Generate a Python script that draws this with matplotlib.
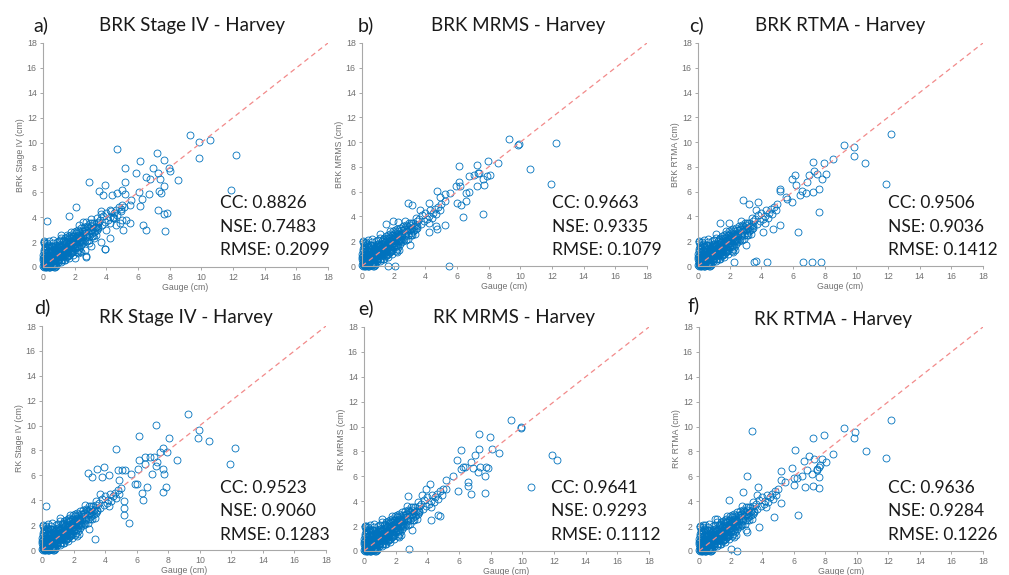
import matplotlib.pyplot as plt
import numpy as np

# ---- data ----
# dense low-value cluster (same gauges in every panel)
cluster_gauge = [0.02, 0.05, 0.08, 0.1, 0.12, 0.15, 0.18, 0.2, 0.22, 0.25, 0.28, 0.3, 0.33, 0.35, 0.38, 0.4, 0.43, 0.45, 0.48, 0.5,
                 0.03, 0.06, 0.09, 0.13, 0.16, 0.19, 0.23, 0.26, 0.29, 0.32, 0.36, 0.39, 0.42, 0.46, 0.49, 0.04, 0.11, 0.21, 0.31, 0.41,
                 0.52, 0.55, 0.58, 0.6, 0.62, 0.65, 0.68, 0.7, 0.72, 0.75, 0.78, 0.8, 0.82, 0.85, 0.88, 0.9, 0.92, 0.95, 0.98, 1.0,
                 0.54, 0.59, 0.64, 0.69, 0.74, 0.79, 0.84, 0.89, 0.94, 0.99, 0.57, 0.67, 0.77, 0.87, 0.97,
                 1.02, 1.05, 1.08, 1.1, 1.13, 1.16, 1.2, 1.23, 1.26, 1.3, 1.33, 1.36, 1.4, 1.43, 1.46, 1.5,
                 1.04, 1.12, 1.18, 1.25, 1.32, 1.38, 1.45, 1.07, 1.15, 1.28, 1.35, 1.48,
                 1.52, 1.55, 1.58, 1.62, 1.65, 1.68, 1.72, 1.75, 1.78, 1.82, 1.85, 1.88, 1.92, 1.95, 1.98,
                 1.54, 1.6, 1.67, 1.74, 1.8, 1.87, 1.94, 1.57, 1.7,
                 2.02, 2.05, 2.1, 2.14, 2.18, 2.22, 2.26, 2.3, 2.35, 2.4, 2.44, 2.48, 2.07, 2.16, 2.24, 2.33, 2.42, 2.12, 2.28, 2.45,
                 2.52, 2.58, 2.65, 2.7, 2.78, 2.85, 2.9, 2.98, 3.05, 3.1, 3.18, 3.25, 3.3, 3.38, 3.45, 2.62, 2.75, 2.95, 3.15, 3.4,
                 3.5, 3.6, 3.7, 3.8, 3.9, 4.0, 4.1, 4.2, 4.3, 4.4, 4.5, 4.6, 4.7, 4.8, 4.9, 5.0, 3.65, 4.25]
cluster_est = [0.05, 0.3, 0.0, 0.6, 0.2, 0.9, 0.1, 0.45, 1.1, 0.3, 0.7, 0.05, 1.3, 0.5, 0.2, 0.85, 1.5, 0.35, 0.6, 1.0,
               0.7, 0.15, 1.2, 0.4, 0.0, 0.75, 1.6, 0.1, 0.95, 0.55, 1.25, 0.25, 0.7, 0.15, 1.4, 1.9, 1.5, 0.05, 1.8, 0.0,
               0.3, 0.8, 1.2, 0.55, 0.1, 1.0, 0.6, 1.5, 0.35, 0.9, 1.2, 0.7, 0.2, 1.05, 1.6, 0.5, 0.85, 1.3, 0.65, 1.0,
               1.7, 0.45, 0.9, 1.25, 0.0, 1.45, 0.75, 1.1, 0.4, 1.8, 0.95, 0.2, 0.6, 1.35, 0.9,
               0.8, 1.3, 1.6, 1.05, 0.6, 1.4, 1.2, 1.8, 0.9, 1.5, 1.1, 2.0, 1.3, 0.8, 1.7, 1.45,
               2.1, 0.4, 1.0, 1.55, 2.2, 1.0, 1.9, 1.15, 1.7, 1.3, 0.6, 1.1,
               1.2, 1.7, 2.1, 1.5, 1.0, 1.85, 2.3, 1.4, 1.75, 2.0, 1.2, 2.5, 1.75, 2.2, 1.5,
               2.4, 0.9, 1.6, 2.6, 1.3, 2.0, 2.5, 1.8, 1.1,
               2.0, 1.6, 2.4, 2.1, 1.4, 2.6, 2.0, 2.8, 2.2, 1.8, 2.5, 2.9, 2.9, 2.35, 1.7, 2.5, 2.2, 1.2, 2.4, 1.9,
               2.4, 2.9, 2.2, 3.0, 2.6, 3.2, 2.5, 2.9, 3.3, 2.7, 3.1, 3.5, 2.9, 3.3, 3.6, 3.2, 2.1, 3.5, 2.5, 3.0,
               3.2, 3.8, 3.4, 4.1, 3.6, 4.3, 3.8, 4.0, 4.5, 3.9, 4.3, 4.6, 4.2, 4.8, 4.5, 5.0, 4.5, 3.5]
# second layer of the cluster, fills the solid blue band
cluster2_gauge = [0.01, 0.03, 0.05, 0.07, 0.09, 0.11, 0.14, 0.17, 0.2, 0.24, 0.27, 0.3, 0.34, 0.37, 0.4, 0.44, 0.47, 0.5,
                  0.06, 0.15, 0.35, 0.18, 0.28, 0.38,
                  0.53, 0.56, 0.6, 0.63, 0.66, 0.7, 0.73, 0.76, 0.8, 0.83, 0.86, 0.9, 0.93, 0.96, 1.0, 0.62, 0.85, 0.72,
                  1.03, 1.06, 1.1, 1.14, 1.17, 1.21, 1.24, 1.27, 1.31, 1.34, 1.37, 1.41, 1.44, 1.47, 1.5, 1.22, 1.42, 1.12,
                  1.53, 1.56, 1.6, 1.63, 1.66, 1.7, 1.73, 1.77, 1.8, 1.84, 1.88, 1.91, 1.95, 1.98, 1.62, 1.76, 1.9,
                  2.03, 2.06, 2.1, 2.13, 2.17, 2.2, 2.23, 2.27, 2.3, 2.34, 2.38, 2.41, 2.45, 2.48, 2.2, 2.36,
                  2.55, 2.6, 2.67, 2.72, 2.8, 2.83, 2.9, 2.93, 3.0, 3.07, 3.12, 3.2, 3.28, 3.35, 3.42, 3.48, 2.7, 3.0]
cluster2_est = [0.6, 1.0, 1.4, 0.8, 0.4, 0.05, 0.65, 1.35, 1.05, 0.7, 1.9, 0.35, 0.95, 1.65, 0.5, 1.1, 0.0, 1.7,
                2.0, 1.7, 2.1, 0.0, 0.15, 0.02,
                1.3, 0.05, 1.9, 0.7, 1.4, 0.25, 1.1, 1.7, 0.45, 1.3, 0.8, 2.0, 1.1, 0.55, 1.45, 2.2, 0.1, 0.0,
                1.8, 0.95, 1.7, 2.3, 0.8, 1.45, 2.05, 1.2, 1.75, 0.9, 1.5, 2.3, 1.25, 1.95, 0.85, 0.55, 0.6, 2.6,
                1.55, 2.25, 1.3, 1.95, 2.5, 1.55, 2.0, 1.15, 2.3, 1.6, 1.3, 2.1, 2.8, 1.85, 0.7, 2.8, 0.95,
                2.3, 1.85, 2.7, 1.6, 2.1, 3.0, 2.3, 1.55, 2.6, 2.0, 3.1, 2.4, 2.7, 2.1, 1.1, 1.3,
                2.6, 2.0, 3.0, 2.4, 3.3, 2.8, 2.2, 3.1, 3.0, 2.5, 3.5, 2.8, 3.2, 2.6, 3.9, 3.1, 3.6, 1.7]

# a) BRK Stage IV
brk_st4_gauge = [9.26, 9.85, 10.57, 9.85, 12.19, 11.85, 4.69, 7.22, 7.62, 6.1, 5.2, 6.93, 7.96, 8.04, 7.24, 5.9, 6.48, 6.78,
                 7.37, 8.55, 7.3, 7.45, 7.64, 6.68, 6.08, 6.23, 6.1, 5.58, 5.2, 5.2, 4.99, 4.69, 3.9, 2.88, 3.54, 3.79, 4.38,
                 7.24, 7.62, 7.85, 7.73, 6.48, 6.32, 5.52, 5.26, 4.84, 3.9, 2.69, 1.66, 2.06, 0.25, 0.04,
                 2.53, 3.0, 3.37, 3.68, 3.9, 4.2, 2.74, 2.63, 1.79, 1.3, 1.1, 0.8, 4.63, 4.97, 5.1, 5.5, 4.9, 4.2, 3.5,
                 4.4, 5.05, 3.68, 2.3, 2.9, 3.2, 4.0, 4.5, 1.5, 2.0, 2.4]
brk_st4_est = [10.58, 10.05, 10.23, 8.76, 9.03, 6.16, 9.46, 9.19, 8.57, 8.49, 7.96, 7.96, 7.96, 7.7, 7.53, 7.58, 7.23, 7.05,
               7.05, 7.02, 6.08, 5.95, 6.54, 5.87, 6.03, 5.49, 4.88, 5.41, 6.83, 5.9, 6.16, 5.95, 6.56, 6.83, 6.1, 5.81, 5.81,
               4.55, 4.29, 4.34, 2.89, 3.0, 3.35, 3.54, 3.75, 3.54, 1.47, 0.86, 4.07, 4.82, 3.7, 2.09,
               3.62, 3.89, 3.2, 2.0, 1.42, 2.36, 0.8, 1.34, 1.74, 1.2, 2.14, 1.74, 3.35, 3.75, 4.8, 4.96, 4.7, 4.6, 3.5,
               4.0, 2.95, 4.29, 3.4, 1.9, 2.3, 3.0, 3.9, 2.6, 0.7, 1.2]

# b) BRK MRMS
brk_mrms_gauge = [9.28, 9.87, 9.9, 12.24, 10.59, 11.92, 6.14, 7.26, 7.97, 8.57, 8.08, 7.3, 7.38, 6.75, 7.07, 7.66, 7.87,
                  6.14, 5.93, 6.18, 7.24, 7.72, 6.54, 6.75, 4.75, 6.54, 6.24, 5.97, 6.35, 7.66, 5.27, 5.23, 5.55, 4.92,
                  2.89, 4.22, 3.16, 5.23, 4.7, 4.75, 4.22, 1.5, 1.96, 2.28, 0.21, 1.65, 2.11, 5.49]
brk_mrms_est = [10.22, 9.8, 9.82, 9.93, 7.8, 6.62, 8.07, 8.15, 8.45, 8.34, 7.37, 7.53, 7.53, 7.26, 7.37, 6.99, 7.26,
                6.78, 6.43, 6.43, 6.43, 6.51, 5.92, 5.97, 6.03, 5.22, 4.95, 5.08, 3.95, 4.2, 5.22, 5.78, 5.92, 5.57,
                5.11, 5.08, 4.95, 3.34, 3.2, 2.95, 2.74, 3.4, 3.6, 3.55, 1.88, 0.0, 0.0, 0.0]

# c) BRK RTMA
brk_rtma_gauge = [12.2, 9.22, 9.88, 9.88, 10.57, 11.9, 8.55, 7.93, 7.24, 7.32, 7.51, 8.06, 7.85, 7.0, 6.86, 6.12, 5.93,
                  6.22, 7.62, 7.24, 6.54, 6.44, 6.8, 5.91, 5.17, 5.17, 5.6, 5.53, 2.85, 3.78, 3.21, 7.62, 6.31, 5.17,
                  4.75, 4.11, 6.65, 7.22, 7.74, 4.37, 3.55, 3.67, 2.26, 1.41, 1.94]
brk_rtma_est = [10.66, 9.78, 9.62, 8.84, 8.33, 6.64, 8.63, 8.33, 8.38, 7.63, 7.45, 7.42, 7.02, 7.31, 6.75, 7.37, 7.05,
                6.56, 6.21, 5.97, 6.03, 5.71, 5.89, 5.17, 6.24, 6.03, 5.44, 5.6, 5.36, 5.17, 5.04, 4.39, 2.76, 3.27,
                3.0, 2.73, 0.35, 0.35, 0.35, 0.35, 0.35, 0.43, 0.35, 3.48, 3.48]

# d) RK Stage IV
rk_st4_gauge = [9.28, 7.24, 9.92, 9.88, 10.59, 12.22, 11.92, 6.14, 8.06, 4.71, 7.66, 7.45, 7.95, 8.57, 6.14, 6.54, 6.82,
                7.11, 7.32, 7.24, 6.54, 7.66, 7.74, 6.96, 6.08, 4.81, 5.1, 5.23, 3.9, 3.48, 2.89, 3.17, 3.8, 4.22,
                4.87, 5.66, 5.91, 6.01, 6.33, 6.37, 6.67, 7.85, 7.66, 5.53, 3.33, 0.25, 5.21, 5.21, 5.21]
rk_st4_est = [10.91, 10.03, 9.68, 9.01, 8.77, 8.21, 6.9, 9.15, 9.01, 8.08, 8.21, 7.89, 7.89, 7.25, 7.25, 7.49, 7.44,
              7.49, 7.09, 6.74, 6.9, 6.47, 6.07, 6.07, 6.47, 6.4, 6.4, 6.39, 6.63, 6.47, 6.15, 5.83, 5.83, 6.02,
              5.62, 6.07, 5.3, 5.3, 4.6, 4.0, 5.03, 5.03, 4.68, 2.19, 0.88, 3.53, 3.9, 3.4, 2.8]

# e) RK MRMS
rk_mrms_gauge = [9.26, 9.89, 9.92, 7.26, 7.98, 7.26, 6.15, 8.08, 8.55, 11.89, 12.21, 10.57, 7.01, 6.74, 5.89, 6.25,
                 6.36, 6.15, 6.91, 7.3, 7.7, 7.85, 7.2, 7.64, 6.57, 6.57, 6.74, 7.66, 5.62, 5.2, 4.19, 5.94, 5.2,
                 2.78, 4.65, 4.78, 4.25, 2.82, 0.15, 3.94]
rk_mrms_est = [10.5, 9.96, 9.9, 9.43, 9.16, 8.17, 8.09, 8.17, 7.88, 7.69, 7.34, 5.14, 7.74, 7.15, 7.34, 6.75,
               6.75, 6.62, 6.67, 6.75, 6.75, 6.67, 6.35, 6.0, 5.55, 5.22, 4.58, 4.69, 6.0, 5.68, 5.36, 4.82, 4.96,
               4.42, 2.87, 2.81, 2.46, 0.19, 2.0, 4.96]

# f) RK RTMA
rk_rtma_gauge = [12.18, 9.22, 9.86, 9.84, 10.58, 11.87, 3.34, 7.21, 7.91, 6.09, 8.52, 6.98, 7.3, 6.66, 7.78, 8.04,
                 7.68, 7.61, 7.47, 7.19, 7.45, 6.83, 5.9, 6.51, 7.59, 6.2, 6.03, 5.18, 5.18, 5.48, 6.03, 6.73, 7.21,
                 7.59, 3.05, 3.77, 2.81, 1.9, 5.18, 6.28, 4.78, 3.81, 3.07, 2.01, 2.43, 1.02, 0.27]
rk_rtma_est = [10.55, 9.88, 9.56, 9.08, 8.01, 7.5, 9.62, 9.08, 9.32, 8.09, 7.82, 7.61, 7.42, 7.23, 7.42, 7.15,
               6.88, 6.75, 6.62, 6.16, 6.48, 6.54, 6.7, 6.0, 5.95, 5.89, 5.89, 6.43, 5.68, 5.55, 5.28, 5.14, 5.2,
               5.04, 6.0, 5.14, 4.74, 4.07, 3.88, 2.92, 2.73, 1.93, 1.53, 0.19, 0.0, 2.6, 2.06]

tags = ['a)', 'b)', 'c)', 'd)', 'e)', 'f)']
titles = ['BRK Stage IV - Harvey', 'BRK MRMS - Harvey', 'BRK RTMA - Harvey',
          'RK Stage IV - Harvey', 'RK MRMS - Harvey', 'RK RTMA - Harvey']
ylabels = ['BRK Stage IV (cm)', 'BRK MRMS (cm)', 'BRK RTMA (cm)',
           'RK Stage IV (cm)', 'RK MRMS (cm)', 'RK RTMA (cm)']
cc = ['0.8826', '0.9663', '0.9506', '0.9523', '0.9641', '0.9636']
nse = ['0.7483', '0.9335', '0.9036', '0.9060', '0.9293', '0.9284']
rmse = ['0.2099', '0.1079', '0.1412', '0.1283', '0.1112', '0.1226']
panel_gauge = [brk_st4_gauge, brk_mrms_gauge, brk_rtma_gauge, rk_st4_gauge, rk_mrms_gauge, rk_rtma_gauge]
panel_est = [brk_st4_est, brk_mrms_est, brk_rtma_est, rk_st4_est, rk_mrms_est, rk_rtma_est]

# ---- layout (pixels in the 1009x575 canvas) ----
W, H = 1009, 575
boxes = [(43, 43, 328, 267), (362, 43, 647, 266), (698, 43, 983, 266),
         (42, 326, 326, 550), (364, 327, 649, 551), (699, 327, 983, 551)]
tag_xy = [(41, 25), (366, 25), (696, 25), (42, 307), (366, 308), (694, 305)]
title_xy = [(192, 25), (518, 25), (840, 25), (186, 318), (514, 318), (833, 319)]
stat_xy = [(220, 203), (552, 203), (888, 203), (220, 488), (551, 488), (888, 488)]

blue = '#0072BD'
axcol = '#a8a8a8'
txtcol = '#707070'
big_font = 'Lato'
small_font = 'Liberation Sans'

fig = plt.figure(figsize=(W / 100, H / 100), dpi=100)


def fx(px):
    return px / W


def fy(py):
    return 1 - py / H


mk = dict(ls='none', marker='o', mfc='none', mec=blue, ms=5.0, mew=0.6, clip_on=False)

for i in range(6):
    l, t, r, b = boxes[i]
    ax = fig.add_axes([fx(l), fy(b), (r - l) / W, (b - t) / H])
    ax.plot(panel_gauge[i], panel_est[i], **mk)
    ax.plot(cluster_gauge, cluster_est, **mk)
    ax.plot(cluster2_gauge, cluster2_est, **mk)
    ax.set_xlim(0, 18)
    ax.set_ylim(0, 18)
    lims = ax.get_xlim()
    ax.plot(lims, lims, color='#f28a8a', lw=0.9, dashes=(4, 3), zorder=3)
    ax.set_xticks(range(0, 19, 2))
    ax.set_yticks(range(0, 19, 2))
    for s in ['top', 'right']:
        ax.spines[s].set_visible(False)
    for s in ['left', 'bottom']:
        ax.spines[s].set_color(axcol)
        ax.spines[s].set_linewidth(0.8)
    ax.tick_params(direction='out', length=2.5, width=0.7, color=axcol, labelcolor=txtcol,
                   labelsize=6.3, pad=2)
    for lab in ax.get_xticklabels() + ax.get_yticklabels():
        lab.set_family(small_font)
    ax.set_xlabel('Gauge (cm)', fontsize=6.3, color=txtcol, family=small_font, labelpad=0.5)
    ax.set_ylabel(ylabels[i], fontsize=6.3, color=txtcol, family=small_font, labelpad=1)
    ax.set_facecolor('none')

    fig.text(fx(tag_xy[i][0]), fy(tag_xy[i][1]), tags[i], ha='center', va='center',
             fontsize=14, family=big_font, color='#1a1a1a')
    fig.text(fx(title_xy[i][0]), fy(title_xy[i][1]), titles[i], ha='center', va='center',
             fontsize=13.5, family=big_font, color='#1a1a1a')
    stats = ['CC: ' + cc[i], 'NSE: ' + nse[i], 'RMSE: ' + rmse[i]]
    for k, s in enumerate(stats):
        fig.text(fx(stat_xy[i][0]), fy(stat_xy[i][1] + 23.5 * k), s, ha='left', va='center',
                 fontsize=12.5, family=big_font, color='#1a1a1a')

fig.savefig('out.png', dpi=100)
